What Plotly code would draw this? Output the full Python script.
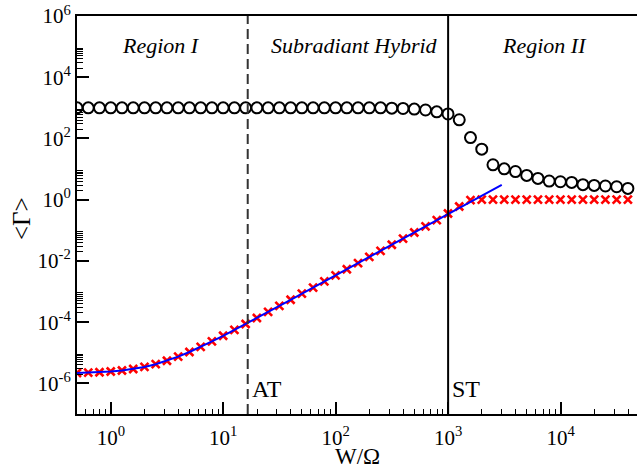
import math
import plotly.graph_objects as go

# ---------------- data ----------------
W = [0.5, 0.6295, 0.7924, 0.9976, 1.256, 1.581, 1.991, 2.506, 3.155, 3.972,
     5.0, 6.295, 7.924, 9.976, 12.56, 15.81, 19.91, 25.06, 31.55, 39.72,
     50.0, 62.95, 79.24, 99.76, 125.6, 158.1, 199.1, 250.6, 315.5, 397.2,
     500.0, 629.5, 792.4, 997.6, 1256, 1581, 1991, 2506, 3155, 3972,
     5000, 6295, 7924, 9976, 12560, 15810, 19910, 25060, 31550, 39720]

gamma_circles = [1000]*28 + [977, 955, 912, 851, 741, 631, 407, 107, 44.7, 13.8,
                             10.2, 8.3, 6.2, 4.95, 4.07, 3.86, 3.67, 3.09, 2.93, 2.80,
                             2.65, 2.34]

gamma_cross = [2.19e-6, 2.24e-6, 2.31e-6, 2.44e-6, 2.64e-6, 2.95e-6, 3.45e-6, 4.24e-6, 5.48e-6, 7.46e-6,
               1.06e-5, 1.56e-5, 2.35e-5, 3.59e-5, 5.57e-5, 8.71e-5, 1.37e-4, 2.16e-4, 3.40e-4, 5.38e-4,
               8.52e-4, 1.35e-3, 2.14e-3, 3.38e-3, 5.36e-3, 8.50e-3, 1.35e-2, 2.14e-2, 3.38e-2, 5.36e-2,
               8.50e-2, 0.135, 0.214, 0.355, 0.60, 0.97, 1.0, 1.0, 1.0, 1.0,
               1.0, 1.0, 1.0, 1.0, 1.0, 1.0, 1.0, 1.0, 1.0, 1.0]

fit_W = [0.5, 0.6295, 0.7924, 0.9976, 1.256, 1.581, 1.991, 2.506, 3.155, 3.972,
         5.0, 6.295, 7.924, 9.976, 12.56, 15.81, 19.91, 25.06, 31.55, 39.72,
         50.0, 62.95, 79.24, 99.76, 125.6, 158.1, 199.1, 250.6, 315.5, 397.2,
         500.0, 629.5, 792.4, 997.6, 1256, 1581, 1991, 2506, 3000]
fit_gamma = [2.19e-6, 2.24e-6, 2.31e-6, 2.44e-6, 2.64e-6, 2.95e-6, 3.45e-6, 4.24e-6, 5.48e-6, 7.46e-6,
             1.06e-5, 1.56e-5, 2.35e-5, 3.59e-5, 5.57e-5, 8.71e-5, 1.37e-4, 2.16e-4, 3.40e-4, 5.38e-4,
             8.52e-4, 1.35e-3, 2.14e-3, 3.38e-3, 5.36e-3, 8.50e-3, 1.35e-2, 2.14e-2, 3.38e-2, 5.36e-2,
             8.50e-2, 0.135, 0.214, 0.345, 0.536, 0.85, 1.35, 2.14, 3.06]

AT = 16.5
ST = 1000

x_tickvals = [1, 10, 100, 1000, 10000]
x_ticktext = ["10<sup>0</sup>", "10<sup>1</sup>", "10<sup>2</sup>", "10<sup>3</sup>", "10<sup>4</sup>"]
y_tickvals = [1e-6, 1e-4, 1e-2, 1, 1e2, 1e4, 1e6]
y_ticktext = ["10<sup>-6</sup>", "10<sup>-4</sup>", "10<sup>-2</sup>", "10<sup>0</sup>",
              "10<sup>2</sup>", "10<sup>4</sup>", "10<sup>6</sup>"]
x_minor = [m * 10**e for e in range(-1, 5) for m in range(2, 10)]
y_minor = [m * 10.0**e for e in (-6, -4, -2, 0, 2, 4) for m in range(2, 10)]

region_labels = ["Region I", "Subradiant Hybrid", "Region II"]

FONT = "Liberation Serif"

fig = go.Figure()
fig.add_trace(go.Scatter(x=W, y=gamma_circles, mode="markers",
                         marker=dict(symbol="circle-open", size=11, color="black",
                                     line=dict(width=2, color="black")),
                         showlegend=False))
fig.add_trace(go.Scatter(x=W, y=gamma_cross, mode="markers",
                         marker=dict(symbol="x-thin-open", size=8, color="red",
                                     line=dict(width=2.6, color="red")),
                         showlegend=False))
fig.add_trace(go.Scatter(x=fit_W, y=fit_gamma, mode="lines",
                         line=dict(color="#0000ff", width=2),
                         showlegend=False))

# threshold lines (shape x is given in data units)
fig.add_shape(type="line", xref="x", yref="paper", x0=AT, x1=AT,
              y0=0, y1=1, line=dict(color="#333333", width=2, dash="10px,5px"))
fig.add_shape(type="line", xref="x", yref="paper", x0=ST, x1=ST,
              y0=0, y1=1, line=dict(color="black", width=2))

# region labels
for txt, xp in zip(region_labels, [0.15, 0.495, 0.834]):
    fig.add_annotation(text="<i>" + txt + "</i>", xref="paper", yref="paper",
                       x=xp, y=0.925, xanchor="center", yanchor="middle", showarrow=False,
                       font=dict(family=FONT, size=22, color="black"))
for txt, xv in (("AT", AT), ("ST", ST)):
    fig.add_annotation(text=txt, xref="x", yref="paper", x=math.log10(xv), y=0.064,
                       xanchor="left", yanchor="middle", xshift=2, showarrow=False,
                       font=dict(family=FONT, size=24, color="black"))

# axis titles
fig.add_annotation(text="W/Ω", xref="paper", yref="paper", x=0.5, y=-0.106,
                   xanchor="center", yanchor="middle",
                   showarrow=False, font=dict(family=FONT, size=23, color="black"))
fig.add_annotation(text="&lt;Γ&gt;", xref="paper", yref="paper", x=-0.098, y=0.49,
                   xanchor="center", yanchor="middle",
                   textangle=-90, showarrow=False, font=dict(family=FONT, size=25, color="black"))

axis_common = dict(type="log", showgrid=False, zeroline=False, showline=True,
                   linecolor="black", linewidth=2, ticks="inside", tickcolor="black",
                   tickwidth=1.5, automargin=False,
                   tickfont=dict(family=FONT, size=21, color="black"))

fig.update_xaxes(**axis_common, range=[math.log10(0.5), 4.68], ticklen=12,
                 tickmode="array", tickvals=x_tickvals, ticktext=x_ticktext, mirror=True,
                 minor=dict(tickmode="array", tickvals=x_minor, ticks="inside", ticklen=5,
                            tickwidth=1, tickcolor="black"),
                 ticklabelstandoff=4)
fig.update_yaxes(**axis_common, range=[-7, 6], ticklen=12,
                 tickmode="array", tickvals=y_tickvals, ticktext=y_ticktext,
                 minor=dict(tickmode="array", tickvals=y_minor, ticks="inside", ticklen=6,
                            tickwidth=1, tickcolor="black"))

fig.update_layout(width=637, height=470, margin=dict(l=77, r=0, t=16, b=56),
                  plot_bgcolor="white", paper_bgcolor="white",
                  font=dict(family=FONT, color="black"))

fig.write_html("out.html", config={"displayModeBar": False},
               post_script="document.body.style.margin='0';document.body.style.overflow='hidden';")
